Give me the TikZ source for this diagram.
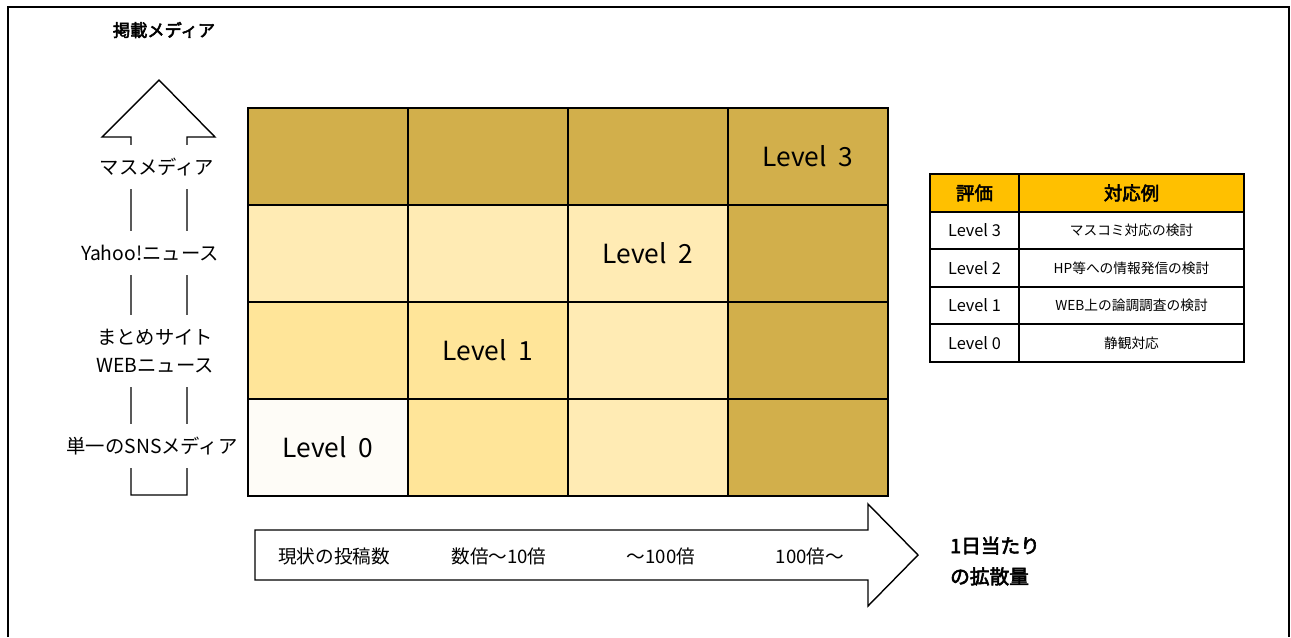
\documentclass[tikz,border=0pt]{standalone}
\usepackage{fontspec}
\setmainfont{Noto Sans CJK JP}
\newfontfamily\boldjp{Noto Sans CJK JP}[FakeBold=3]
\usepackage{xcolor}
\usepackage{tikz}
\usetikzlibrary{positioning}

\definecolor{goldDark}{HTML}{D2AF4B}
\definecolor{goldLight}{HTML}{FFEBB4}
\definecolor{goldMid}{HTML}{FFE599}
\definecolor{goldPale}{HTML}{FEFCF7}
\definecolor{headGold}{HTML}{FFC000}

\begin{document}
\begin{tikzpicture}[
    x=0.02cm, y=-0.02cm,
    cell/.style={rectangle, draw, line width=0.9pt, minimum width=3.2cm, minimum height=1.94cm, inner sep=0pt},
    lvl/.style={font=\fontsize{15}{18}\selectfont},
    media/.style={fill=white, inner sep=0pt, minimum height=0.88cm, align=center, font=\fontsize{11}{15.5}\selectfont},
    spread/.style={font=\fontsize{10.6}{13}\selectfont},
    head/.style={rectangle, draw, line width=0.9pt, fill=headGold, minimum height=0.76cm, font=\boldjp\fontsize{10.5}{13}\selectfont},
    row/.style={rectangle, draw, line width=0.9pt, minimum height=0.75cm, font=\fontsize{7.8}{10}\selectfont},
    outline/.style={draw, line width=0.8pt, fill=white}
]
\useasboundingbox (0,0) rectangle (1291,637);

% Frame
\draw [line width=1.4pt] (8,637) -- (8,7) -- (1289,7) -- (1289,637);

% Media axis
\node (title) [font=\boldjp\fontsize{9.8}{12}\selectfont] at (164,30) {掲載メディア};
\draw [outline] (131,495) -- (131,137) -- (102,137) -- (159,80) -- (215,137) -- (187,137) -- (187,495) -- cycle;

\node (mass) [media] at (157,167) {マスメディア};
\node (yahoo) [media] at (150,253) {Yahoo!ニュース};
\node (matome) [media, minimum height=1.44cm] at (155,351) {まとめサイト\\WEBニュース};
\node (sns) [media] at (152,446) {単一のSNSメディア};

% Level grid
\foreach \r/\c/\shade in {0/0/goldDark, 0/1/goldDark, 0/2/goldDark, 0/3/goldDark,
                          1/0/goldLight, 1/1/goldLight, 1/2/goldLight, 1/3/goldDark,
                          2/0/goldMid, 2/1/goldMid, 2/2/goldLight, 2/3/goldDark,
                          3/0/goldPale, 3/1/goldMid, 3/2/goldLight, 3/3/goldDark}
    \node (c\r\c) [cell, fill=\shade] at ({328+160*\c},{156.5+97*\r}) {};

\node (lv3) [lvl] at (c03) {Level~~3};
\node (lv2) [lvl] at (c12) {Level~~2};
\node (lv1) [lvl] at (c21) {Level~~1};
\node (lv0) [lvl] at (c30) {Level~~0};

% Spread axis
\draw [outline] (255,530) -- (868,530) -- (868,504) -- (918,555) -- (868,606) -- (868,580) -- (255,580) -- cycle;

\node (now) [spread] at (334,556) {現状の投稿数};
\node (x10) [spread] at (499,556) {数倍～10倍};
\node (x100) [spread] at (661,556) {～100倍};
\node (over) [spread] at (810,556) {100倍～};

\node (perday) [anchor=west, align=left, font=\boldjp\fontsize{11.2}{17.5}\selectfont] at (944,561) {1日当たり\\の拡散量};

% Response table
\node (evalh) [head, minimum width=1.78cm] at (974.5,193) {評価};
\node (acth) [head, minimum width=4.5cm] at (1131.5,193) {対応例};
\foreach \i/\lv/\act in {1/3/マスコミ対応の検討, 2/2/HP等への情報発信の検討, 3/1/WEB上の論調調査の検討, 4/0/静観対応} {
    \node (ev\i) [row, minimum width=1.78cm, font=\fontsize{9.3}{11}\selectfont] at (974.5,{193+37.5*\i}) {Level \lv};
    \node (act\i) [row, minimum width=4.5cm] at (1131.5,{193+37.5*\i}) {\act};
}

\end{tikzpicture}
\end{document}
